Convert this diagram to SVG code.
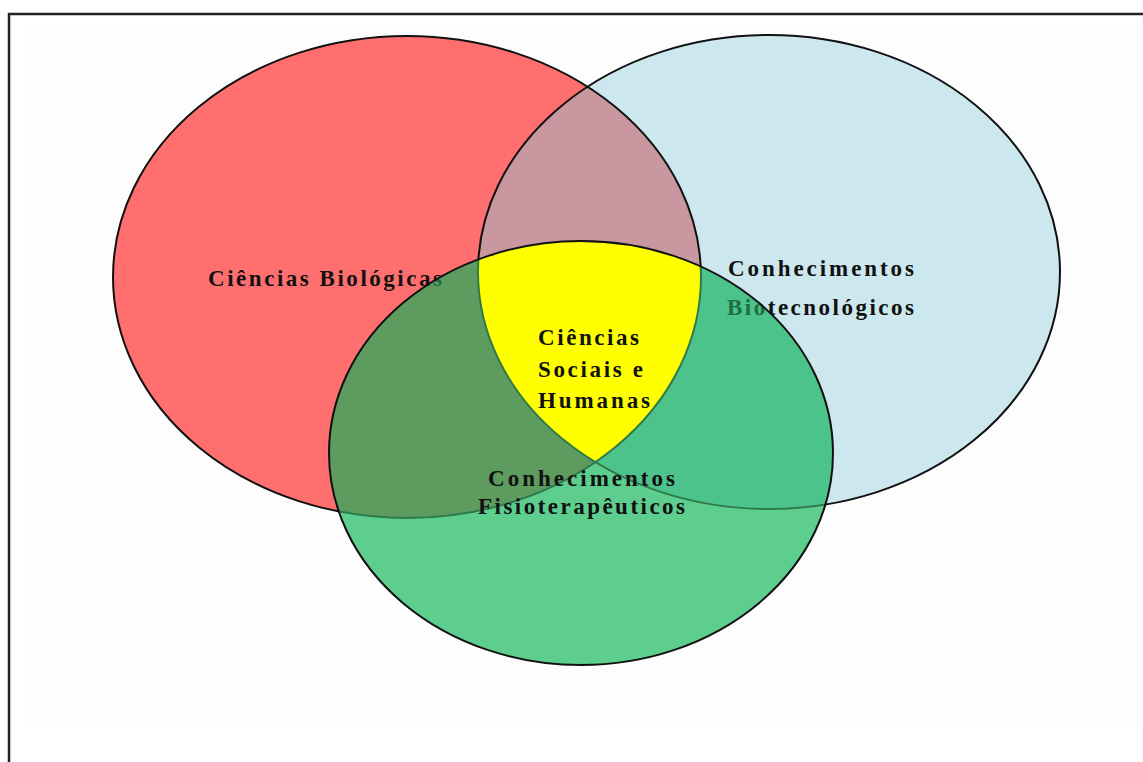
<svg xmlns="http://www.w3.org/2000/svg" width="1143" height="762" viewBox="0 0 1143 762">
  <defs>
    <ellipse id="eRed" cx="407" cy="277" rx="294" ry="241"/>
    <ellipse id="eBlue" cx="769" cy="272" rx="291" ry="237"/>
    <ellipse id="eGreen" cx="581" cy="453" rx="252" ry="212"/>
    <clipPath id="cRed"><use href="#eRed"/></clipPath>
    <clipPath id="cBlue"><use href="#eBlue"/></clipPath>
    <clipPath id="cGreen"><use href="#eGreen"/></clipPath>
    <style>
      .lbl { font-family: "Liberation Serif", "Times New Roman", serif; font-weight: bold; font-size: 23px; fill: #111; }
      .tint { fill: #1f6e3e; }
      .edge { fill: none; stroke: #111; stroke-width: 2; }
      .edgeIn { fill: none; stroke: #2f7a4c; stroke-width: 2; }
    </style>
    <g id="upperLabels">
      <text x="208" y="286" textLength="234" lengthAdjust="spacing">Ciências Biológicas</text>
      <text x="728" y="276" textLength="186" lengthAdjust="spacing">Conhecimentos</text>
      <text x="727" y="315" textLength="187" lengthAdjust="spacing">Biotecnológicos</text>
    </g>
  </defs>

  <!-- page frame -->
  <rect x="0" y="0" width="1143" height="762" fill="#ffffff"/>
  <rect x="30" y="25" width="1113" height="702" fill="#fdfdfd"/>
  <path d="M9,762 V14 H1143" fill="none" stroke="#222" stroke-width="2.5"/>

  <!-- base discs -->
  <g id="node-biologicas">
    <use href="#eRed" fill="#ff6f6f"/>
  </g>
  <g id="node-biotecnologicos">
    <use href="#eBlue" fill="#cce7ee"/>
    <use href="#eBlue" fill="#c9979f" clip-path="url(#cRed)"/>
  </g>

  <!-- labels of the upper discs -->
  <use href="#upperLabels" class="lbl"/>

  <!-- upper outlines -->
  <use href="#eRed" class="edge"/>
  <use href="#eBlue" class="edge"/>

  <!-- lower disc, over the upper ones -->
  <g id="node-fisioterapeuticos">
    <use href="#eGreen" fill="#5ece8f"/>
    <use href="#eGreen" fill="#5e9b5f" clip-path="url(#cRed)"/>
    <use href="#eGreen" fill="#4cc38a" clip-path="url(#cBlue)"/>
    <g clip-path="url(#cRed)">
      <use href="#eGreen" fill="#ffff00" clip-path="url(#cBlue)"/>
    </g>
    <g clip-path="url(#cGreen)">
      <use href="#eRed" class="edgeIn"/>
      <use href="#eBlue" class="edgeIn"/>
      <use href="#upperLabels" class="lbl tint"/>
    </g>
    <use href="#eGreen" class="edge"/>
  </g>

  <g id="node-sociais">
    <text class="lbl" x="538" y="345" textLength="101" lengthAdjust="spacing">Ciências</text>
    <text class="lbl" x="538" y="377" textLength="105" lengthAdjust="spacing">Sociais e</text>
    <text class="lbl" x="538" y="408" textLength="112" lengthAdjust="spacing">Humanas</text>
  </g>

  <text class="lbl" x="488" y="486" textLength="187" lengthAdjust="spacing">Conhecimentos</text>
  <text class="lbl" x="478" y="514" textLength="207" lengthAdjust="spacing">Fisioterapêuticos</text>

  <g id="connectors"/>
</svg>
